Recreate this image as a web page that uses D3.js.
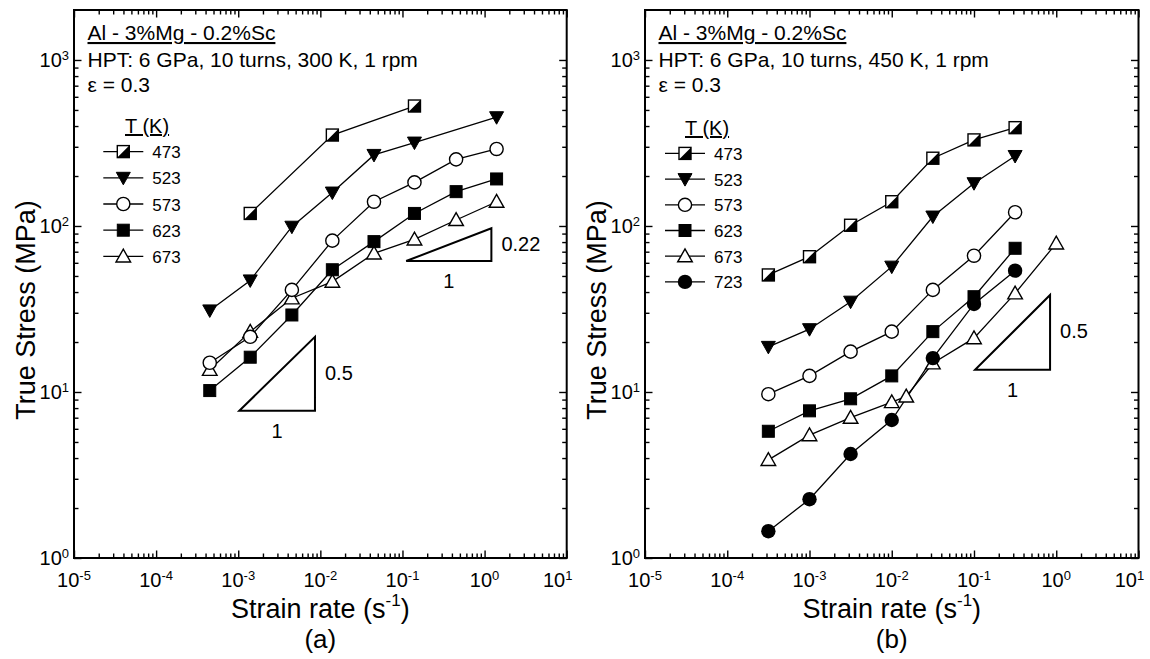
<!DOCTYPE html>
<html lang="en">
<head>
<meta charset="UTF-8">
<title>True stress vs strain rate</title>
<script src="https://d3js.org/d3.v7.min.js"></script>
<style>
    body {margin: 0; background: #fff;}
    svg {font-family: "Liberation Sans", Arial, sans-serif;}
</style>
</head>
<body>
<script>
    const width = 1150;
    const height = 659;

    // strain rates (s^-1) of the tests
    const ratesA = [4.5e-4, 1.4e-3, 4.5e-3, 1.4e-2, 4.5e-2, 0.14, 0.45, 1.4];
    const ratesB = [3.16e-4, 1e-3, 3.16e-3, 1e-2, 3.16e-2, 0.1, 0.316, 1];
    const ratesB673 = [3.16e-4, 1e-3, 3.16e-3, 1e-2, 1.5e-2, 3.16e-2, 0.1, 0.316, 1];

    // true stress (MPa) at eps = 0.3, null = not tested
    const a473 = [null, 119, null, 353, null, 528, null, null];
    const a523 = [31, 47, 99, 159, 268, 318, null, 452];
    const a573 = [15.0, 21.5, 41.2, 81.6, 140, 183, 252, 291];
    const a623 = [10.2, 16.2, 29.1, 54.5, 80.5, 119, 161, 192];
    const a673 = [13.6, 23.1, 36.7, 46.2, 68.4, 83, 108.7, 140];

    const b473 = [50.7, 65.3, 101, 140, 256, 330, 391, null];
    const b523 = [18.7, 23.9, 35, 56.9, 114, 181, 264, null];
    const b573 = [9.7, 12.5, 17.5, 23.1, 41.2, 66.2, 121, null];
    const b623 = [5.8, 7.7, 9.1, 12.5, 23.1, 37.5, 73.4, null];
    const b673 = [3.9, 5.5, 7.0, 8.7, 9.4, 14.9, 21.1, 39.3, 78.6];
    const b723 = [1.45, 2.26, 4.23, 6.78, 16.0, 33.9, 53.8, null];

    // slope triangles: rate corners, stress corners, label
    const triARates  = [[1.03e-3, 8.6e-3], [0.111, 1.21]];
    const triAStress = [[7.7, 21.5], [61.5, 96.8]];
    const triALabels = ["0.5", "0.22"];
    const triBRates  = [[0.103, 0.841]];
    const triBStress = [[13.6, 38.4]];
    const triBLabels = ["0.5"];

    // axis ticks
    const xMajor = [1e-5, 1e-4, 1e-3, 1e-2, 1e-1, 1, 10];
    const xExp   = ["-5", "-4", "-3", "-2", "-1", "0", "1"];
    const yMajor = [1, 10, 100, 1000];
    const yExp   = ["0", "1", "2", "3"];

    const markerOf = {473: "half", 523: "tridown", 573: "circle", 623: "square", 673: "triup", 723: "dot"};

    const svg = d3.select("body").append("svg")
            .attr("width", width).attr("height", height);

    const panels = [
        {left: 74, right: 566.7, tag: "(a)", hpt: "HPT: 6 GPa, 10 turns, 300 K, 1 rpm",
         series: [[673, ratesA, a673], [473, ratesA, a473], [523, ratesA, a523], [573, ratesA, a573], [623, ratesA, a623]],
         legendT: [473, 523, 573, 623, 673], legX: 123.3, legY: 151.6, legStep: 26.2, legTitleX: 125, legTitleY: 133,
         triR: triARates, triS: triAStress, triL: triALabels},
        {left: 645, right: 1138.5, tag: "(b)", hpt: "HPT: 6 GPa, 10 turns, 450 K, 1 rpm",
         series: [[673, ratesB673, b673], [473, ratesB, b473], [523, ratesB, b523], [573, ratesB, b573], [623, ratesB, b623], [723, ratesB, b723]],
         legendT: [473, 523, 573, 623, 673, 723], legX: 685, legY: 153.4, legStep: 25.7, legTitleX: 685, legTitleY: 135,
         triR: triBRates, triS: triBStress, triL: triBLabels}
    ];
    const plotTop = 10, plotBottom = 558;

    panels.forEach(drawPanel);

    function drawMarker(g, type, cx, cy) {
        const s = 12;
        if (type === "half") {
            g.append("rect").attr("x", cx - s/2).attr("y", cy - s/2).attr("width", s).attr("height", s)
                    .style("fill", "white");
            g.append("path").attr("d", `M${cx + s/2},${cy - s/2}L${cx + s/2},${cy + s/2}L${cx - s/2},${cy + s/2}Z`)
                    .style("fill", "black");
            g.append("rect").attr("x", cx - s/2).attr("y", cy - s/2).attr("width", s).attr("height", s)
                    .style("fill", "none").style("stroke", "black").style("stroke-width", 1.4);
        } else if (type === "tridown") {
            g.append("path").attr("d", `M${cx - 7},${cy - 5.5}L${cx + 7},${cy - 5.5}L${cx},${cy + 7}Z`)
                    .style("fill", "black").style("stroke", "black").style("stroke-width", 1);
        } else if (type === "circle") {
            g.append("circle").attr("cx", cx).attr("cy", cy).attr("r", 6.6)
                    .style("fill", "white").style("stroke", "black").style("stroke-width", 1.4);
        } else if (type === "square") {
            g.append("rect").attr("x", cx - s/2).attr("y", cy - s/2).attr("width", s).attr("height", s)
                    .style("fill", "black").style("stroke", "black").style("stroke-width", 1);
        } else if (type === "triup") {
            g.append("path").attr("d", `M${cx - 7.3},${cy + 5.6}L${cx + 7.3},${cy + 5.6}L${cx},${cy - 7.2}Z`)
                    .style("fill", "white").style("stroke", "black").style("stroke-width", 1.4);
        } else if (type === "dot") {
            g.append("circle").attr("cx", cx).attr("cy", cy).attr("r", 7.2)
                    .style("fill", "black");
        }
    }

    // text like 10^-3 with a raised exponent
    function supText(g, x, y, base, sup, size, supSize, anchor, rise) {
        const t = g.append("text").attr("x", x).attr("y", y)
                .attr("text-anchor", anchor).style("font-size", size + "px");
        t.append("tspan").text(base);
        t.append("tspan").attr("dy", -rise).style("font-size", supSize + "px").text(sup);
        return t;
    }

    function drawPanel(p) {
        const x = d3.scaleLog().domain([1e-5, 10]).range([p.left, p.right]);
        const y = d3.scaleLog().domain([1, 2000]).range([plotBottom, plotTop]);
        const g = svg.append("g");

        const xMinor = [], yMinor = [];
        for (let k = -5; k <= 0; k++) for (let m = 2; m <= 9; m++) xMinor.push(m * Math.pow(10, k));
        for (let k = 0; k <= 3; k++) for (let m = 2; m <= 9; m++) {
            const v = m * Math.pow(10, k);
            if (v < 2000) yMinor.push(v);
        }

        // inward ticks on all four sides
        const axes = [
            [d3.axisBottom(x), `translate(0,${plotBottom})`, xMajor, xMinor],
            [d3.axisTop(x), `translate(0,${plotTop})`, xMajor, xMinor],
            [d3.axisLeft(y), `translate(${p.left},0)`, yMajor, yMinor],
            [d3.axisRight(y), `translate(${p.right},0)`, yMajor, yMinor]
        ];
        axes.forEach(function(a) {
            [[a[2], 7.5], [a[3], 4.5]].forEach(function(set) {
                const ax = g.append("g").attr("transform", a[1])
                        .call(a[0].tickValues(set[0]).tickSize(-set[1]).tickFormat(""));
                ax.select(".domain").remove();
                ax.selectAll("line").style("stroke", "black").style("stroke-width", 1.4);
            });
        });

        g.append("rect").attr("x", p.left).attr("y", plotTop)
                .attr("width", p.right - p.left).attr("height", plotBottom - plotTop)
                .style("fill", "none").style("stroke", "black").style("stroke-width", 2);

        // tick labels
        xMajor.forEach(function(v, i) {
            const shift = i === xMajor.length - 1 ? -9 : 0;
            supText(g, x(v) + shift, plotBottom + 29, "10", xExp[i], 20, 13, "middle", 7);
        });
        yMajor.forEach(function(v, i) {
            supText(g, p.left - 5, y(v) + 7, "10", yExp[i], 20, 13, "end", 7);
        });

        // axis titles
        const cx = (p.left + p.right) / 2;
        supText(g, cx, 618, "Strain rate (s", "-1", 27, 17, "middle", 12)
                .append("tspan").attr("dy", 12).style("font-size", "27px").text(")");
        g.append("text").attr("x", cx).attr("y", 648).attr("text-anchor", "middle")
                .style("font-size", "26px").text(p.tag);
        g.append("text").attr("transform", `translate(${p.left - 39},310) rotate(-90)`)
                .attr("text-anchor", "middle").style("font-size", "27px").text("True Stress (MPa)");

        // annotations
        const tx = p.left + 13.5;
        g.append("text").attr("x", tx).attr("y", 40).style("font-size", "21px")
                .style("text-decoration", "underline").text("Al - 3%Mg - 0.2%Sc");
        g.append("text").attr("x", tx).attr("y", 67).style("font-size", "21px").text(p.hpt);
        g.append("text").attr("x", tx).attr("y", 92).style("font-size", "21px").text("\u03b5 = 0.3");

        // slope triangles
        p.triR.forEach(function(r, i) {
            const s = p.triS[i];
            const x0 = x(r[0]), x1 = x(r[1]), y0 = y(s[0]), y1 = y(s[1]);
            g.append("path").attr("d", `M${x0},${y0}L${x1},${y0}L${x1},${y1}Z`)
                    .style("fill", "none").style("stroke", "black").style("stroke-width", 2)
                    .style("stroke-linejoin", "miter");
            g.append("text").attr("x", x1 + 10).attr("y", (y0 + y1) / 2 + 6)
                    .style("font-size", "20px").text(p.triL[i]);
            g.append("text").attr("x", (x0 + x1) / 2).attr("y", y0 + 27).attr("text-anchor", "middle")
                    .style("font-size", "20px").text("1");
        });

        // series lines, then symbols
        const line = d3.line().x(d => x(d[0])).y(d => y(d[1]));
        const pts = p.series.map(s => s[1].map((r, i) => [r, s[2][i]]).filter(d => d[1] !== null));
        pts.forEach(function(d) {
            g.append("path").datum(d).attr("d", line)
                    .style("fill", "none").style("stroke", "black").style("stroke-width", 1.3);
        });
        pts.forEach(function(d, i) {
            const type = markerOf[p.series[i][0]];
            d.forEach(q => drawMarker(g, type, x(q[0]), y(q[1])));
        });

        // legend
        g.append("text").attr("x", p.legTitleX).attr("y", p.legTitleY).style("font-size", "20px")
                .style("text-decoration", "underline").text("T (K)");
        p.legendT.forEach(function(T, i) {
            const ly = p.legY + i * p.legStep;
            g.append("line").attr("x1", p.legX - 20).attr("x2", p.legX + 20).attr("y1", ly).attr("y2", ly)
                    .style("stroke", "black").style("stroke-width", 1.3);
            drawMarker(g, markerOf[T], p.legX, ly);
            g.append("text").attr("x", p.legX + 29).attr("y", ly + 6.5).style("font-size", "17px").text(T);
        });
    }
</script>
</body>
</html>
